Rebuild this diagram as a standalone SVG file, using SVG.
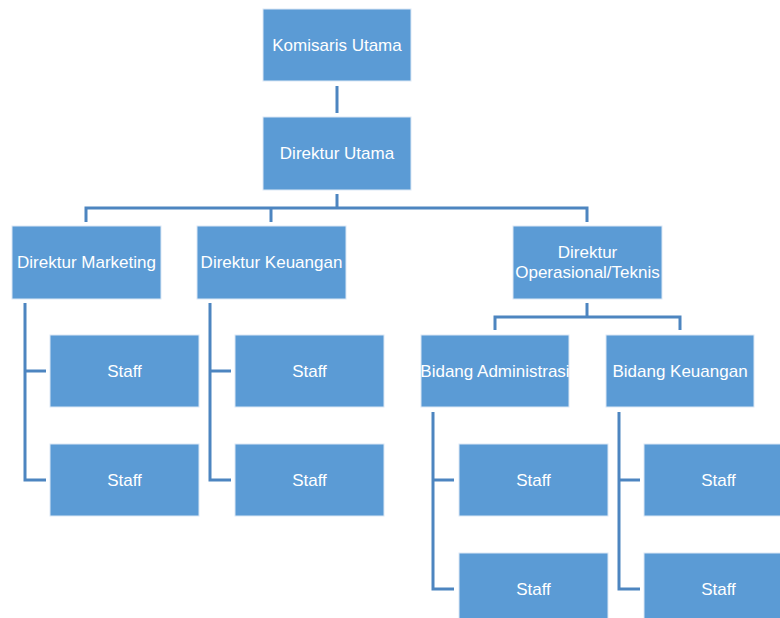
<svg xmlns="http://www.w3.org/2000/svg" width="780" height="618" viewBox="0 0 780 618">
<style>
.box{fill:#5B9BD5;stroke:#DCE8F5;stroke-width:1}
.lbl{font-family:"Liberation Sans",Arial,sans-serif;font-size:17px;fill:#FFFFFF;text-anchor:middle}
.con{fill:none;stroke:#4D85C0;stroke-width:3}
</style>
<rect width="780" height="618" fill="#FFFFFF"/>
<g id="connectors" class="con">
<path d="M337,86 V113"/>
<path d="M337,194 V208"/>
<path d="M86,222 V208 H587 V222"/>
<path d="M271,208 V222"/>
<path d="M587,303 V317"/>
<path d="M495,330 V317 H680 V330"/>
<path d="M25,303 V480 H46"/>
<path d="M25,371 H46"/>
<path d="M210,303 V480 H231"/>
<path d="M210,371 H231"/>
<path d="M433,412 V589 H454"/>
<path d="M433,480 H454"/>
<path d="M619,412 V589 H640"/>
<path d="M619,480 H640"/>
</g>
<g id="komisaris-utama"><rect class="box" x="263" y="9" width="148" height="72"/><text class="lbl" x="337" y="51">Komisaris Utama</text></g>
<g id="direktur-utama"><rect class="box" x="263" y="117" width="148" height="73"/><text class="lbl" x="337" y="159">Direktur Utama</text></g>
<g id="direktur-marketing"><rect class="box" x="12" y="226" width="149" height="73"/><text class="lbl" x="86.5" y="268">Direktur Marketing</text></g>
<g id="direktur-keuangan"><rect class="box" x="197" y="226" width="149" height="73"/><text class="lbl" x="271.5" y="268">Direktur Keuangan</text></g>
<g id="direktur-operasional"><rect class="box" x="513" y="226" width="149" height="73"/><text class="lbl" x="587.5" y="258">Direktur</text><text class="lbl" x="587.5" y="278">Operasional/Teknis</text></g>
<g id="bidang-administrasi"><rect class="box" x="421" y="335" width="148" height="72"/><text class="lbl" x="495" y="377">Bidang Administrasi</text></g>
<g id="bidang-keuangan"><rect class="box" x="606" y="335" width="148" height="72"/><text class="lbl" x="680" y="377">Bidang Keuangan</text></g>
<g id="staff-m1"><rect class="box" x="50" y="335" width="149" height="72"/><text class="lbl" x="124.5" y="377">Staff</text></g>
<g id="staff-m2"><rect class="box" x="50" y="444" width="149" height="72"/><text class="lbl" x="124.5" y="486">Staff</text></g>
<g id="staff-k1"><rect class="box" x="235" y="335" width="149" height="72"/><text class="lbl" x="309.5" y="377">Staff</text></g>
<g id="staff-k2"><rect class="box" x="235" y="444" width="149" height="72"/><text class="lbl" x="309.5" y="486">Staff</text></g>
<g id="staff-a1"><rect class="box" x="459" y="444" width="149" height="72"/><text class="lbl" x="533.5" y="486">Staff</text></g>
<g id="staff-a2"><rect class="box" x="459" y="553" width="149" height="72"/><text class="lbl" x="533.5" y="595">Staff</text></g>
<g id="staff-b1"><rect class="box" x="644" y="444" width="149" height="72"/><text class="lbl" x="718.5" y="486">Staff</text></g>
<g id="staff-b2"><rect class="box" x="644" y="553" width="149" height="72"/><text class="lbl" x="718.5" y="595">Staff</text></g>
</svg>
